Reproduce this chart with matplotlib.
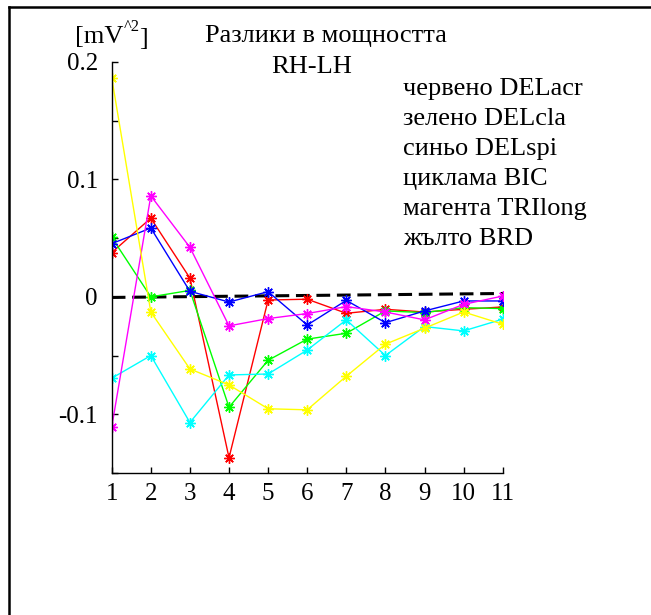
import numpy as np
import matplotlib.pyplot as plt
from matplotlib.lines import Line2D

plt.rcParams['font.family'] = ['Liberation Serif', 'DejaVu Serif']

# segment index along x
seg = np.arange(1, 12)

# power difference RH-LH per segment, mV^2
DELacr = [0.0377, 0.067, 0.016, -0.137, -0.0027, -0.002, -0.014, -0.0106, -0.0129, -0.0106, -0.0086]
DELcla = [0.0507, 0.0, 0.0055, -0.094, -0.054, -0.036, -0.031, -0.012, -0.0134, -0.0092, -0.010]
DELspi = [0.0453, 0.0586, 0.0047, -0.0044, 0.0044, -0.024, -0.003, -0.022, -0.012, -0.0035, -0.0035]
BIC = [-0.0693, -0.050, -0.107, -0.0665, -0.0657, -0.0453, -0.0196, -0.050, -0.0253, -0.029, -0.019]
TRIlong = [-0.111, 0.086, 0.0422, -0.0247, -0.0185, -0.0142, -0.0083, -0.0129, -0.0196, -0.0064, 0.0007]
BRD = [0.1866, -0.0129, -0.0614, -0.075, -0.0953, -0.0962, -0.0676, -0.0403, -0.0267, -0.0129, -0.0233]

# trend line over all segments
trend_x = [1, 11.4]
trend_y = [-0.0005, 0.003]

legend_lines = ['червено DELacr', 'зелено DELcla', 'синьо DELspi',
                'циклама BIC', 'магента TRIlong', 'жълто BRD']

fig = plt.figure(figsize=(6.51, 6.15), dpi=100)
ax = fig.add_axes([0.1716, 0.2309, 0.6006, 0.6683])

ax.plot(trend_x, trend_y, '--', color='k', lw=2.2, dashes=(4.5, 2.2), zorder=1)

star = (8, 2, 0)
for vals, col in [(DELacr, '#ff0000'), (DELcla, '#00ff00'), (DELspi, '#0000ff'),
                  (BIC, '#00ffff'), (TRIlong, '#ff00ff'), (BRD, '#ffff00')]:
    ax.plot(seg, vals, color=col, lw=1, marker=star, markersize=7.5,
            markeredgewidth=1, zorder=2)

ax.set_xlim(1, 11)
ax.set_ylim(-0.15, 0.2)
ax.set_xticks(seg)
ax.set_xticklabels([str(i) for i in seg])
yt = [-0.15, -0.1, -0.05, 0, 0.05, 0.1, 0.15, 0.2]
ax.set_yticks(yt)
ax.set_yticklabels(['', '-0.1', '', '0', '', '0.1', '', '0.2'])
ax.tick_params(direction='in', length=4, width=1, labelsize=18)
ax.tick_params(axis='y', pad=10)
ax.tick_params(axis='x', pad=7)
for s in ['top', 'right']:
    ax.spines[s].set_visible(False)
for s in ['left', 'bottom']:
    ax.spines[s].set_linewidth(1)

# unit label with caret superscript
t1 = fig.text(75 / 651, 1 - 43 / 615, '[mV', fontsize=19, va='baseline')
t2 = ax.annotate('^2', xy=(1, 0.6), xycoords=t1, fontsize=12, va='bottom')
ax.annotate(']', xy=(1, 0), xycoords=t2, xytext=(0, -11),
            textcoords='offset points', fontsize=19, va='bottom')

fig.text(326 / 651, 1 - 42 / 615, 'Разлики в мощността', fontsize=19,
         ha='center', va='baseline')
fig.text(312 / 651, 1 - 73 / 615, 'RH-LH', fontsize=19, ha='center', va='baseline')

for i, line in enumerate(legend_lines):
    fig.text(403 / 651, 1 - (95 + 30 * i) / 615, line, fontsize=19, va='baseline')

# frame around the figure
fig.add_artist(Line2D([8.5 / 651, 8.5 / 651], [0, 1 - 6.5 / 615], color='k', lw=1.8))
fig.add_artist(Line2D([8.5 / 651, 1], [1 - 6.5 / 615, 1 - 6.5 / 615], color='k', lw=1.8))

fig.savefig('out.png', dpi=100)
